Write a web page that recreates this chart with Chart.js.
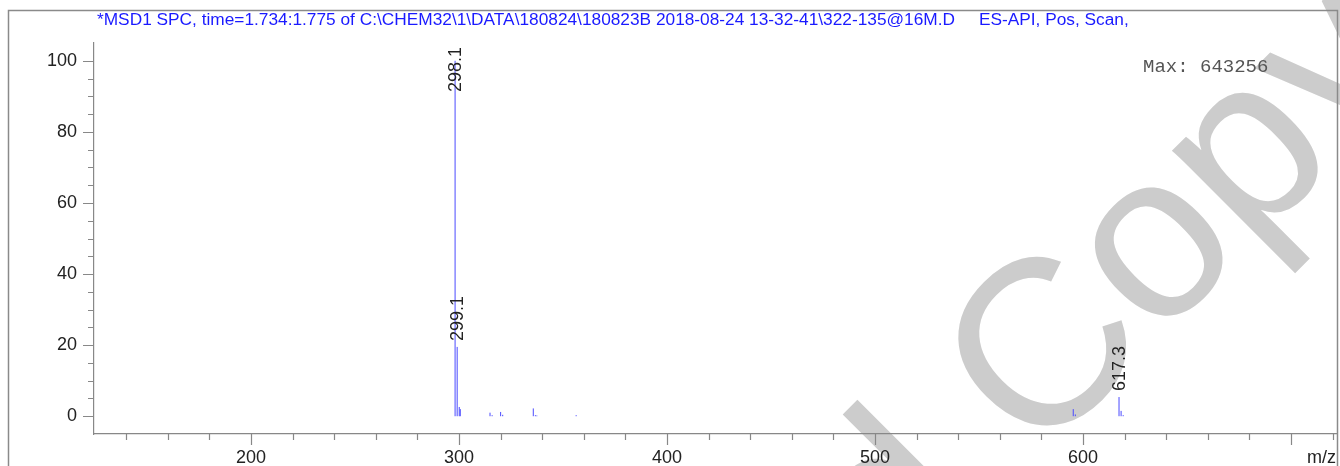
<!DOCTYPE html>
<html>
<head>
<meta charset="utf-8">
<script src="https://cdn.jsdelivr.net/npm/chart.js@4"></script>
<style>
  html,body{margin:0;padding:0;background:#fff;overflow:hidden}
  #wrap{position:relative;width:1340px;height:466px}
</style>
</head>
<body>
<div id="wrap"><canvas id="chart" width="1340" height="466"></canvas></div>
<script>
// spettro MS: dati
const TITLE = '*MSD1 SPC, time=1.734:1.775 of C:\\CHEM32\\1\\DATA\\180824\\180823B 2018-08-24 13-32-41\\322-135@16M.D     ES-API, Pos, Scan,';
const MAX_TEXT = 'Max: 643256';
const X_TITLE = 'm/z';
const WATERMARK = 'Controlled Copy';

const MZ    = [298.1, 299.1, 300.1, 300.6, 314.9, 315.9, 320.0, 321.0, 335.7, 336.7, 337.4, 356.3, 595.3, 596.3, 617.3, 618.3, 619.3];
const ABUND = [100,   19.5,  2.6,   2.0,   1.0,   0.3,   1.2,   0.4,   2.2,   0.3,   0.2,   0.3,   2.0,   0.5,   5.4,   1.5,   0.3];
const PEAK_LABELS = ['298.1', '299.1', '617.3'];

const X_TICKS  = [200, 300, 400, 500, 600, 700];
const X_LABELS = ['200', '300', '400', '500', '600', ''];
const Y_TICKS  = [0, 20, 40, 60, 80, 100];

const FONT = '"Liberation Sans", Arial, sans-serif';

// punti per le linee verticali (0 -> intensita', poi interruzione)
function stickPoints(){
  const pts = [];
  MZ.forEach((m, i) => {
    pts.push({x:m, y:0});
    pts.push({x:m, y:ABUND[i]});
    pts.push({x:m, y:null});
  });
  return pts;
}

const decor = {
  id:'decor',
  beforeDraw(chart){
    const ctx = chart.ctx;
    // filigrana grigia
    ctx.save();
    ctx.translate(1036, 463);
    ctx.rotate(-Math.PI/4);
    ctx.fillStyle = '#cccccc';
    ctx.font = '236px ' + FONT;
    ctx.textBaseline = 'alphabetic';
    const i = WATERMARK.lastIndexOf(' ');
    ctx.textAlign = 'left';
    ctx.fillText(WATERMARK.slice(i+1), 0, 0);
    ctx.textAlign = 'right';
    ctx.fillText(WATERMARK.slice(0, i+1), 0, 0);
    ctx.restore();
  },
  afterDraw(chart){
    const ctx = chart.ctx;
    const a = chart.chartArea;
    const xs = chart.scales.x, ys = chart.scales.y;
    ctx.save();

    // cornice
    ctx.strokeStyle = '#8a8a8a';
    ctx.lineWidth = 1.5;
    ctx.beginPath();
    ctx.moveTo(8.5, 470); ctx.lineTo(8.5, 10.5); ctx.lineTo(1337.5, 10.5); ctx.lineTo(1337.5, 470);
    ctx.stroke();

    // tacche asse x
    ctx.strokeStyle = '#888';
    ctx.lineWidth = 1.2;
    ctx.beginPath();
    for(let v = 140; v <= xs.max; v += 20){
      const px = Math.round(xs.getPixelForValue(v)) + 0.5;
      const len = v % 100 === 0 ? 11 : 6;
      ctx.moveTo(px, a.bottom); ctx.lineTo(px, a.bottom + len);
    }
    // tacche asse y
    for(let v = 0; v <= 100; v += 5){
      const py = Math.round(ys.getPixelForValue(v)) + 0.5;
      const len = v % 20 === 0 ? 11 : 6;
      ctx.moveTo(a.left - len, py); ctx.lineTo(a.left, py);
    }
    ctx.stroke();

    // titolo
    ctx.fillStyle = '#1a1aff';
    ctx.font = '17.3px ' + FONT;
    ctx.textAlign = 'left';
    ctx.textBaseline = 'alphabetic';
    ctx.fillText(TITLE, 97, 25);

    // Max
    ctx.fillStyle = '#555';
    ctx.font = '19px "Liberation Mono", "Courier New", monospace';
    ctx.fillText(MAX_TEXT, 1143, 72);

    // m/z
    ctx.fillStyle = '#222';
    ctx.font = '18px ' + FONT;
    ctx.textAlign = 'right';
    ctx.textBaseline = 'middle';
    ctx.fillText(X_TITLE, 1336, 458);

    // etichette picchi, ruotate
    ctx.textAlign = 'left';
    ctx.textBaseline = 'middle';
    PEAK_LABELS.forEach(lab => {
      const idx = MZ.indexOf(parseFloat(lab));
      if(idx < 0) return;
      const px = xs.getPixelForValue(MZ[idx]);
      const top = ys.getPixelForValue(ABUND[idx]);
      const w = ctx.measureText(lab).width;
      const base = Math.max(top - 6, a.top + 4 + w);
      ctx.save();
      ctx.translate(px + 1, base);
      ctx.rotate(-Math.PI/2);
      ctx.fillText(lab, 0, 0);
      ctx.restore();
    });
    ctx.restore();
  }
};

new Chart(document.getElementById('chart'), {
  type:'scatter',
  data:{
    datasets:[{
      data: stickPoints(),
      showLine:true,
      spanGaps:false,
      borderColor:'#4a4aff',
      borderWidth:1,
      pointRadius:0,
      pointHoverRadius:0
    }]
  },
  options:{
    responsive:false,
    animation:false,
    events:[],
    layout:{padding:{top:43, right:3, left:0, bottom:0}},
    plugins:{legend:{display:false}, tooltip:{enabled:false}},
    scales:{
      x:{
        type:'linear',
        min:124.5, max:722.1,
        afterBuildTicks(s){ s.ticks = X_TICKS.map(v => ({value:v})); },
        afterFit(s){ s.height = 32; },
        grid:{display:false, drawTicks:false},
        border:{display:true, color:'#888', width:1.2},
        ticks:{
          autoSkip:false, maxRotation:0,
          padding:13, color:'#222', font:{family:FONT, size:18},
          callback:(v, i) => X_LABELS[i]
        }
      },
      y:{
        min:-5, max:105,
        afterBuildTicks(s){ s.ticks = Y_TICKS.map(v => ({value:v})); },
        afterFit(s){ s.width = 94; },
        grid:{display:false, drawTicks:false},
        border:{display:true, color:'#888', width:1.2},
        ticks:{
          autoSkip:false,
          padding:17, color:'#222', font:{family:FONT, size:18},
          callback:v => String(v)
        }
      }
    }
  },
  plugins:[decor]
});
</script>
</body>
</html>
